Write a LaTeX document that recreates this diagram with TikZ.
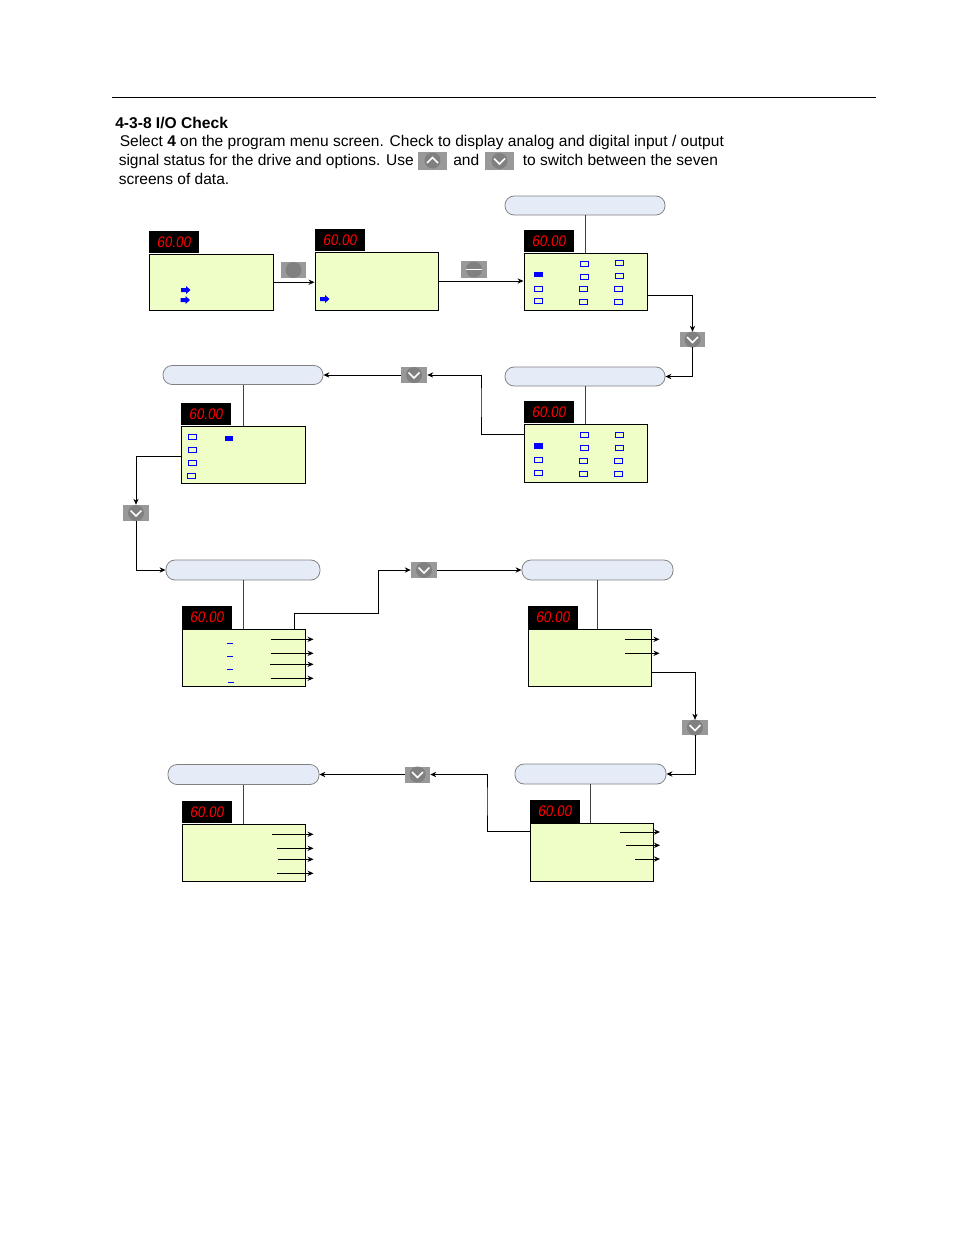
\documentclass[tikz,border=0pt]{standalone}
\usepackage{fontspec}
\setmainfont{Liberation Sans}
\newfontfamily\ledfont[FakeStretch=.88,FakeSlant=.14]{Liberation Sans}
\usetikzlibrary{arrows.meta}
\definecolor{lcdgreen}{HTML}{EFFDC6}
\definecolor{pillblue}{HTML}{E6ECF7}
\definecolor{keygray}{HTML}{999999}
\definecolor{knobgray}{HTML}{808080}
\tikzset{
lcd/.style={draw=black,fill=lcdgreen,line width=.75pt,anchor=north west,inner sep=0pt},
disp/.style={fill=black,text=red,anchor=south west,inner sep=0pt,minimum height=17pt,font=\fontsize{11.5}{11.5}\ledfont},
pill/.style={draw=black!50,fill=pillblue,line width=.6pt,rounded corners=6.8pt,inner sep=0pt},
keybox/.style={fill=keygray,inner sep=0pt},
led/.style={draw=blue,line width=.75pt},
wire/.style={draw=black,line width=.75pt},
para/.style={anchor=base west,inner sep=0pt,font=\fontsize{11.65}{12}\selectfont}
}
\begin{document}
\begin{tikzpicture}[>={Stealth[length=4.5pt,width=4pt]},x=.75pt,y=-.75pt]
\useasboundingbox (0,0) rectangle (954,1235);
\coordinate (rulea) at (112,97.5);
\coordinate (ruleb) at (876,97.5);
\draw[line width=.75pt] (rulea)--(ruleb);
\node[para,font=\fontsize{11.7}{12}\selectfont\bfseries] (title) at (115,128) {4-3-8 I/O Check};
\node[para] (lineA) at (119.5,146.5) {Select \textbf{4} on the program menu screen. Check to display analog and digital input / output};
\node[para] (lineB) at (118.5,165.5) {signal status for the drive and options. Use};
\node[para] (lineC) at (453,165.5) {and};
\node[para] (lineD) at (522.5,165.5) {to switch between the seven};
\node[para] (lineE) at (118.5,184) {screens of data.};
\foreach \n/\x/\y/\w/\h in {pil3/585/205.5/160/19,pil4/585/376.5/160/19,pil5/243/375/160/19,pil6/243/570/154/20,pil7/597.5/570/151/20,pil8/590.5/774/151/20,pil9/243.5/774.5/151/20}{
\node[pill,minimum width={\w*.75pt},minimum height={\h*.75pt}] (\n) at (\x,\y) {};
}
\foreach \n/\x/\y/\w/\h in {scr1/148.5/253.5/124/56.5,scr2/314.5/251.5/123/58,scr3/523.5/252.5/123/57,scr4/523.5/423.5/123/58,scr5/180.5/425.5/124/57.5,scr6/181.5/629/123/56.5,scr7/527.5/629/123/56.5,scr8/529.5/823/123/57.5,scr9/181.5/823.5/123/57}{
\node[lcd,minimum width={\w*.75pt},minimum height={\h*.75pt}] (\n) at (\x,\y) {};
\node[disp,minimum width=37.5pt] (\n d) at (\n.north west) {\raisebox{-.8pt}{60.00}};
}
\foreach \n/\x/\y/\w/\h in {key1/293.5/270/25/16,key2/474/269.5/26/17,key3/692.5/339.5/25/15,key4/414/375/26/16,key5/136/513/26/16,key6/424/570/26/16,key7/695/727.5/26/15,key8/417.5/774.5/25/16,keyu/432.5/160.5/29/18,keyd/499.5/161/29/18}{
\node[keybox,minimum width={\w*.75pt},minimum height={\h*.75pt}] (\n) at (\x,\y) {};
\fill[knobgray] (\n) circle (8);
}
\foreach \n in {key3,key4,key5,key6,key7,key8,keyd}{
\draw[white,line width=1.1pt] (\n) ++(-5.5,-2.5) -- ++(5.5,5.5) -- ++(5.5,-5.5);
}
\draw[white,line width=1.1pt] (keyu) ++(-5.5,2.5) -- ++(5.5,-5.5) -- ++(5.5,5.5);
\draw[white,line width=.8pt] (key2) ++(-8,0) -- ++(16,0);
\foreach \n in {3,4,5,6,7,8,9}{
\draw[wire,black!75] (pil\n.south) -- (pil\n.south |- scr\n.north);
}
\draw[wire,->] (scr1.east) -- (scr1.east -| scr2.west);
\draw[wire,->] (scr2.east) -- (scr2.east -| scr3.west);
\draw[wire,->] ([yshift=-10.5pt]scr3.east) -| (key3.north);
\draw[wire,->] (key3.south) |- (pil4.east);
\coordinate (bend4) at (481,400);
\draw[wire,->] ([yshift=14.25pt]scr4.west) -| (bend4) |- (key4.east);
\draw[wire,->] (key4.west) -- (pil5.east);
\draw[wire,->] ([yshift=-1.5pt]scr5.west) -| (key5.north);
\draw[wire,->] (key5.south) |- (pil6.west);
\coordinate (bend6) at (378,613);
\draw[wire,->] ([xshift=37.9pt]scr6.north) |- (bend6) |- (key6.west);
\draw[wire,->] (key6.east) -- (pil7.west);
\draw[wire,->] ([yshift=-11.25pt]scr7.east) -| (key7.north);
\draw[wire,->] (key7.south) |- (pil8.east);
\coordinate (bend8) at (487,800);
\draw[wire,->] ([yshift=15.75pt]scr8.west) -| (bend8) |- (key8.east);
\draw[wire,->] (key8.west) -- (pil9.east);
\foreach \x/\y in {181/290,180.5/300,320/299}{
\fill[blue] (\x,\y-2) -- ++(5,0) -- ++(0,-2) -- ++(4.5,4) -- ++(-4.5,4) -- ++(0,-2) -- ++(-5,0) -- cycle;
}
\foreach \x/\y in {534.3/286.3,534.3/298.3,580.3/261.3,580.3/274,579.5/286.3,579.5/299.3,615.3/260.3,615.3/273.3,614.3/286.3,614.3/299.3,
534.3/457.3,534.3/470,580.3/432,580.3/445.3,579.5/458.3,579.5/471.3,615.3/432,615.3/445.3,614.3/458.3,614.3/471.3,
188.3/434.3,188.3/447.3,188.3/460.3,187.3/473.3}{
\draw[led] (\x,\y) rectangle ++(8,5);
}
\fill[blue] (534,272) rectangle (543,277);
\fill[blue] (534,443) rectangle (543,448.5);
\fill[blue] (225,436) rectangle (233,441);
\foreach \x/\y in {227/643,227/656,227/669,228/682}{
\draw[blue,line width=.6pt] (\x,\y) -- ++(6,0);
}
\foreach \i/\xa/\xb/\y in {a/270.7/313.5/639.3,b/270.7/313.5/653.3,c/270/313.5/664.3,d/270.7/313.5/678.3,e/625/659.5/639.3,f/625/659.5/653.3,g/619.7/660/832,h/626/660/845.3,i/635/660/859,j/272.3/313.5/834.3,k/277/313.5/848.3,l/278.3/313.5/859.3,m/277/313.5/873.3}{
\coordinate (from\i) at (\xa,\y);
\coordinate (to\i) at (\xb,\y);
\draw[wire,->] (from\i) -- (to\i);
}
\end{tikzpicture}
\end{document}
